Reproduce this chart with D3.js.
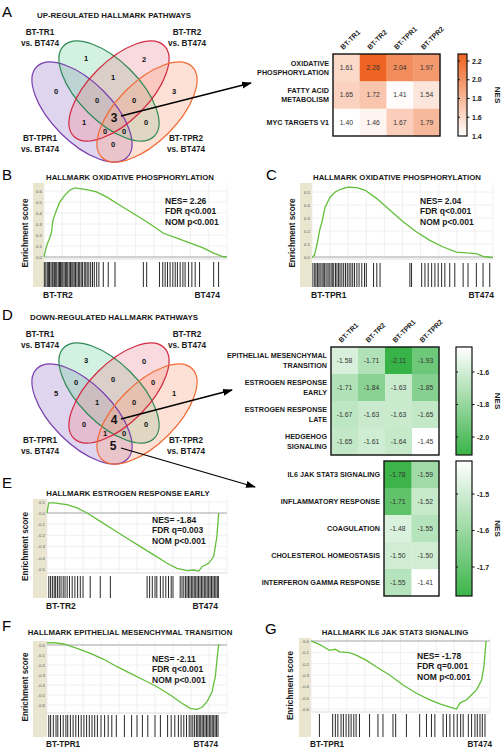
<!DOCTYPE html>
<html><head><meta charset="utf-8">
<script src="https://cdn.jsdelivr.net/npm/d3@7"></script>
<style>body{margin:0;background:#fff}svg{display:block;font-family:"Liberation Sans",Arial,sans-serif}</style>
</head><body><svg id="c" width="502" height="750"></svg>
<script>
// ---------------- DATA ----------------
const vennSetNames = ["BT-TR1", "BT-TR2", "BT-TPR1", "BT-TPR2"];
const vennVs = "vs. BT474";
// region order: TR1, TR2, TPR1, TPR2, TR1&TPR1, TR1&TR2, TR2&TPR2, TPR1&TR1&TR2, TR1&TR2&TPR2, ALL,
//               TPR1&TR2, TR1&TPR2, TPR1&TR2&TPR2, TPR1&TR1&TPR2, TPR1&TPR2
const vennUpCounts   = [1, 2, 0, 3, null, 1, null, 0, 0, 3, 1, 0, 0, 0, 0];
const vennDownCounts = [3, 0, 5, 1, 0, 0, 0, 1, 0, 4, 0, 0, 1, 0, 5];

const upSamples = ["BT-TR1", "BT-TR2", "BT-TPR1", "BT-TPR2"];
const upPathways = ["OXIDATIVE\nPHOSPHORYLATION", "FATTY ACID\nMETABOLISM", "MYC TARGETS V1"];
const upNES = [[1.61, 2.26, 2.04, 1.97], [1.65, 1.72, 1.41, 1.54], [1.40, 1.46, 1.67, 1.79]];
const upTicks = [1.4, 1.6, 1.8, 2.0, 2.2];

const downSamples = ["BT-TR1", "BT-TR2", "BT-TPR1", "BT-TPR2"];
const downPathways = ["EPITHELIAL MESENCHYMAL\nTRANSITION", "ESTROGEN RESPONSE\nEARLY", "ESTROGEN RESPONSE\nLATE", "HEDGEHOG\nSIGNALING"];
const downNES = [[-1.58, -1.71, -2.11, -1.93], [-1.71, -1.84, -1.63, -1.85], [-1.67, -1.63, -1.63, -1.65], [-1.65, -1.61, -1.64, -1.45]];
const downTicks = [-1.6, -1.8, -2.0];

const down2Samples = ["BT-TPR1", "BT-TPR2"];
const down2Pathways = ["IL6 JAK STAT3 SIGNALING", "INFLAMMATORY RESPONSE", "COAGULATION", "CHOLESTEROL HOMEOSTASIS", "INTERFERON GAMMA RESPONSE"];
const down2NES = [[-1.78, -1.59], [-1.71, -1.52], [-1.48, -1.55], [-1.50, -1.50], [-1.55, -1.41]];
const down2Ticks = [-1.5, -1.6, -1.7];

// running enrichment scores [rank fraction, ES]
const esB = [[0,0],[0.013,0.096],[0.027,0.156],[0.04,0.216],[0.049,0.336],[0.068,0.426],[0.086,0.50],[0.113,0.56],[0.14,0.607],[0.168,0.628],[0.196,0.622],[0.232,0.613],[0.287,0.592],[0.342,0.547],[0.415,0.471],[0.488,0.396],[0.561,0.321],[0.653,0.216],[0.726,0.171],[0.80,0.126],[0.872,0.081],[0.927,0.036],[0.973,0.006],[1.0,0]];
const hitsB = [0.002,0.01,0.018,0.024,0.03,0.038,0.045,0.05,0.058,0.064,0.07,0.078,0.085,0.09,0.097,0.103,0.11,0.118,0.124,0.13,0.138,0.145,0.152,0.158,0.165,0.172,0.18,0.188,0.195,0.203,0.21,0.22,0.228,0.236,0.245,0.255,0.265,0.275,0.288,0.3,0.324,0.351,0.388,0.543,0.561,0.631,0.649,0.662,0.675,0.689,0.704,0.717,0.729,0.744,0.759,0.771,0.79,0.808,0.826,0.85,0.927,0.954];

const esC = [[0,-0.005],[0.013,0.013],[0.028,0.10],[0.042,0.205],[0.055,0.27],[0.073,0.385],[0.10,0.46],[0.128,0.50],[0.165,0.525],[0.2,0.538],[0.248,0.533],[0.294,0.513],[0.358,0.449],[0.431,0.359],[0.505,0.269],[0.578,0.192],[0.651,0.128],[0.725,0.077],[0.798,0.038],[0.853,0.031],[0.908,0.026],[0.945,0.005],[0.972,0],[1,-0.005]];
const hitsC = [0.005,0.015,0.022,0.03,0.038,0.045,0.055,0.062,0.07,0.078,0.088,0.095,0.105,0.112,0.12,0.13,0.138,0.147,0.155,0.165,0.175,0.185,0.195,0.205,0.215,0.225,0.235,0.248,0.26,0.275,0.29,0.3,0.34,0.358,0.376,0.541,0.55,0.606,0.624,0.642,0.661,0.679,0.697,0.716,0.734,0.761,0.789,0.835,0.862,0.908,0.945,0.982];

const esE = [[0,0],[0.009,0.09],[0.037,0.09],[0.111,0.075],[0.167,0.045],[0.222,0.0],[0.296,-0.075],[0.37,-0.15],[0.444,-0.225],[0.519,-0.30],[0.593,-0.374],[0.667,-0.449],[0.722,-0.494],[0.778,-0.515],[0.815,-0.509],[0.843,-0.518],[0.861,-0.479],[0.898,-0.449],[0.926,-0.389],[0.944,-0.21],[0.954,0]];
const hitsE = [0.01,0.02,0.03,0.04,0.048,0.058,0.068,0.078,0.09,0.1,0.112,0.125,0.14,0.155,0.17,0.185,0.2,0.24,0.296,0.352,0.556,0.57,0.585,0.6,0.61,0.63,0.645,0.66,0.675,0.69,0.7,0.74,0.75,0.76,0.77,0.778,0.786,0.794,0.802,0.81,0.818,0.826,0.834,0.842,0.85,0.858,0.866,0.874,0.882,0.89,0.898,0.906,0.914,0.922,0.93,0.938,0.946,0.952];

const esF = [[0,0.02],[0.037,0.023],[0.093,0.01],[0.167,-0.033],[0.241,-0.083],[0.315,-0.143],[0.389,-0.217],[0.463,-0.283],[0.537,-0.35],[0.611,-0.417],[0.685,-0.5],[0.75,-0.583],[0.796,-0.633],[0.833,-0.643],[0.861,-0.623],[0.889,-0.567],[0.917,-0.467],[0.935,-0.317],[0.948,-0.083],[0.954,0.01]];
const hitsF = [0.01,0.02,0.035,0.05,0.06,0.075,0.09,0.105,0.115,0.13,0.145,0.16,0.175,0.19,0.205,0.22,0.235,0.25,0.265,0.28,0.3,0.32,0.34,0.36,0.385,0.43,0.47,0.5,0.53,0.56,0.6,0.63,0.67,0.69,0.71,0.73,0.745,0.76,0.775,0.79,0.8,0.81,0.82,0.83,0.838,0.846,0.854,0.862,0.87,0.878,0.886,0.894,0.902,0.91,0.918,0.926,0.934,0.942,0.95];

const esG = [[0,0],[0.028,-0.017],[0.056,-0.038],[0.103,-0.082],[0.136,-0.073],[0.159,-0.096],[0.215,-0.102],[0.252,-0.125],[0.308,-0.169],[0.364,-0.227],[0.439,-0.30],[0.514,-0.388],[0.589,-0.461],[0.664,-0.519],[0.72,-0.554],[0.776,-0.583],[0.813,-0.60],[0.832,-0.548],[0.869,-0.519],[0.897,-0.475],[0.925,-0.431],[0.953,-0.344],[0.966,-0.227],[0.978,0]];
const hitsG = [0.047,0.121,0.136,0.15,0.168,0.181,0.196,0.211,0.224,0.239,0.252,0.271,0.327,0.374,0.402,0.458,0.473,0.533,0.607,0.645,0.673,0.692,0.738,0.757,0.776,0.798,0.817,0.836,0.85,0.879,0.897,0.916,0.929,0.944,0.957,0.972];

// ---------------- DRAWING ----------------
const svg = d3.select("#c");
function txt(g, x, y, s, o = {}) {
  const t = g.append("text").attr("x", x).attr("y", y).text(s)
    .attr("font-size", o.size || 8).attr("font-weight", o.normal ? "normal" : "bold")
    .attr("text-anchor", o.anchor || "start").attr("fill", o.fill || "#1a1a1a");
  if (o.rotate != null) t.attr("transform", `rotate(${o.rotate},${x},${y})`);
  return t;
}
svg.append("defs").append("marker").attr("id", "arr").attr("markerUnits", "userSpaceOnUse")
  .attr("markerWidth", 10).attr("markerHeight", 8).attr("refX", 9).attr("refY", 4).attr("orient", "auto")
  .append("path").attr("d", "M0,0.5 L10,4 L0,7.5 Z").attr("fill", "#000");

// Venn
const ellipses = [
  {cx: 82, cy: 112, rot: 45, fill: "#a07ccc", stroke: "#7a3fae"},
  {cx: 109, cy: 91, rot: 45, fill: "#74d39e", stroke: "#2f8a55"},
  {cx: 119, cy: 91, rot: -45, fill: "#ec8c98", stroke: "#d22a40"},
  {cx: 147, cy: 112, rot: -45, fill: "#fba27e", stroke: "#f26a35"}
];
const regionPos = [[86,58],[144,59],[56,91],[174,91],[76,80],[113,77],[153,80],[97,100],[134,100],[114,118],[84,122],[146,122],[105,131],[124,131],[113,144]];
function venn(oy, title, counts) {
  const g = svg.append("g").attr("transform", `translate(0,${oy})`);
  txt(g, 114, 18, title, {size: 7.9, anchor: "middle"});
  ellipses.forEach(e => g.append("ellipse").attr("rx", 64).attr("ry", 30)
    .attr("transform", `translate(${e.cx},${e.cy}) rotate(${e.rot})`)
    .attr("fill", e.fill).attr("fill-opacity", 0.32));
  ellipses.forEach(e => g.append("ellipse").attr("rx", 64).attr("ry", 30)
    .attr("transform", `translate(${e.cx},${e.cy}) rotate(${e.rot})`)
    .attr("fill", "none").attr("stroke", e.stroke).attr("stroke-width", 1.2));
  counts.forEach((c, i) => {
    if (c == null) return;
    const big = i === 9 || (i === 14 && c >= 3);
    txt(g, regionPos[i][0], regionPos[i][1], String(c), {size: big ? 12 : 7.5, anchor: "middle", fill: "#111"})
      .attr("dominant-baseline", "central");
  });
  const lab = [[40, 35], [187, 35], [40, 141], [186, 141]];
  vennSetNames.forEach((n, i) => {
    txt(g, lab[i][0], lab[i][1], n, {size: 8.2, anchor: "middle"});
    txt(g, lab[i][0], lab[i][1] + 11, vennVs, {size: 8.2, anchor: "middle"});
  });
  return g;
}
venn(0, "UP-REGULATED HALLMARK PATHWAYS", vennUpCounts);
venn(302, "DOWN-REGULATED HALLMARK PATHWAYS", vennDownCounts);

// arrows
function arrow(x1, y1, x2, y2) {
  svg.append("line").attr("x1", x1).attr("y1", y1).attr("x2", x2).attr("y2", y2)
    .attr("stroke", "#000").attr("stroke-width", 1.3).attr("marker-end", "url(#arr)");
}
arrow(121, 116, 251, 83);
arrow(121, 419, 232, 390);
arrow(121, 448, 255, 487);

// Heatmaps
function heatmap(o) {
  const g = svg.append("g");
  const x = d3.scaleBand().domain(o.cols).range([o.x0, o.x1]);
  const y = d3.scaleBand().domain(o.rows).range([o.y0, o.y1]);
  o.rows.forEach((r, i) => o.cols.forEach((c, j) => {
    const v = o.values[i][j];
    g.append("rect").attr("x", x(c)).attr("y", y(r)).attr("width", x.bandwidth() + 0.3)
      .attr("height", y.bandwidth() + 0.3).attr("fill", o.color(v));
    txt(g, x(c) + x.bandwidth() / 2, y(r) + y.bandwidth() / 2 + 2.4, v.toFixed(2),
      {size: 6.8, normal: true, anchor: "middle", fill: "#333"});
  }));
  g.append("rect").attr("x", o.x0).attr("y", o.y0).attr("width", o.x1 - o.x0).attr("height", o.y1 - o.y0)
    .attr("fill", "none").attr("stroke", "#111").attr("stroke-width", 1.4);
  o.rows.forEach(r => {
    const lines = r.split("\n");
    const cy = y(r) + y.bandwidth() / 2;
    lines.forEach((l, k) => txt(g, o.x0 - 4, cy + 2.6 + (k - (lines.length - 1) / 2) * 9.5, l,
      {size: 7.2, anchor: "end"}));
  });
  if (o.showCols) o.cols.forEach(c => {
    const cx = x(c) + x.bandwidth() / 2 - 3;
    txt(g, cx, o.y0 - 4, c, {size: 7, rotate: -45});
  });
  // colour bar
  const cb = o.cb;
  const ys = d3.scaleLinear().domain(cb.refV).range(cb.refY);
  const gid = "g" + Math.round(o.y0);
  const lg = svg.select("defs").append("linearGradient").attr("id", gid)
    .attr("x1", 0).attr("y1", 0).attr("x2", 0).attr("y2", 1);
  d3.range(11).forEach(k => {
    const v = ys.invert(cb.y0 + (cb.y1 - cb.y0) * k / 10);
    lg.append("stop").attr("offset", k / 10).attr("stop-color", o.color(v));
  });
  g.append("rect").attr("x", cb.x0).attr("y", cb.y0).attr("width", cb.x1 - cb.x0).attr("height", cb.y1 - cb.y0)
    .attr("fill", `url(#${gid})`).attr("stroke", "#111").attr("stroke-width", 1.2);
  cb.ticks.forEach(t => {
    const ty = ys(t);
    if (!(ty < cb.y0 + 3 || ty > cb.y1 - 3)) {
      g.append("line").attr("x1", cb.x0).attr("x2", cb.x0 + 2).attr("y1", ty).attr("y2", ty).attr("stroke", "#111");
      g.append("line").attr("x1", cb.x1).attr("x2", cb.x1 + 2.5).attr("y1", ty).attr("y2", ty).attr("stroke", "#111");
    }
    txt(g, cb.x1 + 5, ty + 2.5, t.toFixed(1), {size: 7});
  });
  txt(g, 495, (cb.y0 + cb.y1) / 2, "NES", {size: 8, anchor: "middle", rotate: 90});
}
const orange = d3.scaleLinear().domain([1.40, 2.26]).range(["#ffffff", "#ee6422"]).clamp(true);
heatmap({cols: upSamples, rows: upPathways, values: upNES, x0: 333, x1: 440, y0: 54, y1: 136,
  color: orange, showCols: true,
  cb: {x0: 458, x1: 467, y0: 54, y1: 136, refV: [1.4, 2.2], refY: [136, 61], ticks: upTicks}});
const green1 = d3.scaleLinear().domain([-1.45, -2.11]).range(["#ffffff", "#38b347"]).clamp(true);
heatmap({cols: downSamples, rows: downPathways, values: downNES, x0: 331, x1: 439, y0: 347, y1: 455,
  color: green1, showCols: true,
  cb: {x0: 456, x1: 472, y0: 347, y1: 455, refV: [-1.6, -2.0], refY: [372, 437], ticks: downTicks}});
const green2 = d3.scaleLinear().domain([-1.41, -1.78]).range(["#ffffff", "#3cb44a"]).clamp(true);
heatmap({cols: down2Samples, rows: down2Pathways, values: down2NES, x0: 384, x1: 439, y0: 461, y1: 596,
  color: green2, showCols: false,
  cb: {x0: 456, x1: 472, y0: 461, y1: 596, refV: [-1.5, -1.7], refY: [494, 567], ticks: down2Ticks}});

// GSEA plots
function gsea(o) {
  const g = svg.append("g");
  txt(g, o.letter[1], o.letter[2], o.letter[0], {size: 15, normal: true, fill: "#000"});
  txt(g, o.titleX, o.titleY, o.title, {size: 7.8, anchor: "middle"});
  const x = d3.scaleLinear().domain([0, 1]).range([o.x0, o.x1]);
  const y = d3.scaleLinear().domain(o.refV).range(o.refY);
  g.append("rect").attr("x", o.strip).attr("y", o.top).attr("width", o.x0 - o.strip)
    .attr("height", o.hitBottom - o.top).attr("fill", "#e9e5cf");
  g.append("rect").attr("x", o.x0).attr("y", o.top).attr("width", o.x1 - o.x0)
    .attr("height", o.bottom - o.top).attr("fill", "#fff");
  x.ticks(12).forEach(t => g.append("line").attr("x1", x(t)).attr("x2", x(t)).attr("y1", o.top).attr("y2", o.bottom)
    .attr("stroke", "#ececec").attr("stroke-width", 0.8));
  o.ticks.forEach(t => g.append("line").attr("x1", o.x0).attr("x2", o.x1).attr("y1", y(t)).attr("y2", y(t))
    .attr("stroke", "#ececec").attr("stroke-width", 0.8));
  g.append("line").attr("x1", o.x0).attr("x2", o.x1).attr("y1", y(0)).attr("y2", y(0))
    .attr("stroke", "#aaa").attr("stroke-width", 1);
  g.append("line").attr("x1", o.x0).attr("x2", o.x1).attr("y1", o.bottom).attr("y2", o.bottom)
    .attr("stroke", "#ddd").attr("stroke-width", 1);
  const ax = g.append("g").attr("transform", `translate(${o.x0 - 1},0)`)
    .call(d3.axisLeft(y).tickValues(o.ticks).tickSize(0).tickPadding(1).tickFormat(d => d.toFixed(1)));
  ax.select(".domain").remove();
  ax.selectAll("text").attr("font-size", 4.3).attr("fill", "#555").attr("font-family", "Liberation Sans, Arial, sans-serif");
  g.append("path").datum(o.es).attr("fill", "none").attr("stroke", "#62bf3a").attr("stroke-width", 1.3)
    .attr("d", d3.line().x(d => x(d[0])).y(d => y(d[1])));
  o.hits.forEach(h => g.append("line").attr("x1", x(h)).attr("x2", x(h)).attr("y1", o.hitTop).attr("y2", o.hitBottom)
    .attr("stroke", "#111").attr("stroke-width", 0.9));
  txt(g, o.x0 - 1, o.labY, o.left, {size: o.labSize || 8.5});
  txt(g, o.rightX, o.labY, o.right, {size: o.labSize || 8.5, anchor: "end"});
  o.ann.forEach((a, i) => txt(g, o.annX, o.annY + i * 10.3, a, {size: 8.5}));
  txt(g, o.yTitleX, (o.top + o.hitBottom) / 2 - 2, "Enrichment score", {size: 8.2, anchor: "middle", rotate: -90});
}
const tB = [0, 0.1, 0.2, 0.3, 0.4, 0.5, 0.6];
gsea({letter: ["B", 2, 180], title: "HALLMARK OXIDATIVE PHOSPHORYLATION", titleX: 130, titleY: 180,
  strip: 33, x0: 44, x1: 227, top: 183, bottom: 259, hitTop: 262, hitBottom: 287,
  refV: [0, 0.6], refY: [257, 191], ticks: tB, es: esB, hits: hitsB,
  left: "BT-TR2", right: "BT474", rightX: 220, labY: 298,
  ann: ["NES= 2.26", "FDR q<0.001", "NOM p<0.001"], annX: 165, annY: 204, yTitleX: 28});
gsea({letter: ["C", 266, 180], title: "HALLMARK OXIDATIVE PHOSPHORYLATION", titleX: 397, titleY: 180,
  strip: 300, x0: 312, x1: 493, top: 183, bottom: 259, hitTop: 263, hitBottom: 287,
  refV: [0, 0.5], refY: [257, 192], ticks: [0, 0.1, 0.2, 0.3, 0.4, 0.5], es: esC, hits: hitsC,
  left: "BT-TPR1", right: "BT474", rightX: 494, labY: 298,
  ann: ["NES= 2.04", "FDR q<0.001", "NOM p<0.001"], annX: 420, annY: 204, yTitleX: 295});
gsea({letter: ["E", 2, 488], title: "HALLMARK ESTROGEN RESPONSE EARLY", titleX: 128, titleY: 496,
  strip: 33, x0: 47, x1: 227, top: 499, bottom: 573, hitTop: 576, hitBottom: 598,
  refV: [0, -0.5], refY: [513, 569], ticks: [0.1, 0, -0.1, -0.2, -0.3, -0.4, -0.5], es: esE, hits: hitsE,
  left: "BT-TR2", right: "BT474", rightX: 218, labY: 609,
  ann: ["NES= -1.84", "FDR q=0.003", "NOM p<0.001"], annX: 152, annY: 523, yTitleX: 28});
gsea({letter: ["F", 2, 631], title: "HALLMARK EPITHELIAL MESENCHYMAL TRANSITION", titleX: 130, titleY: 635,
  strip: 33, x0: 47, x1: 227, top: 641, bottom: 713, hitTop: 715, hitBottom: 737,
  refV: [0, -0.6], refY: [645, 705], ticks: [0, -0.1, -0.2, -0.3, -0.4, -0.5, -0.6], es: esF, hits: hitsF,
  left: "BT-TPR1", right: "BT474", rightX: 218, labY: 747, labSize: 8.2,
  ann: ["NES= -2.11", "FDR q<0.001", "NOM p<0.001"], annX: 152, annY: 662, yTitleX: 28});
gsea({letter: ["G", 265, 634], title: "HALLMARK IL6 JAK STAT3 SIGNALING", titleX: 395, titleY: 635,
  strip: 299, x0: 311, x1: 490, top: 638, bottom: 712, hitTop: 714, hitBottom: 737,
  refV: [0, -0.6], refY: [641, 709], ticks: [0, -0.1, -0.2, -0.3, -0.4, -0.5, -0.6], es: esG, hits: hitsG,
  left: "BT-TPR1", right: "BT474", rightX: 492, labY: 747, labSize: 8.2,
  ann: ["NES= -1.78", "FDR q=0.001", "NOM p<0.001"], annX: 417, annY: 659, yTitleX: 293});
txt(svg, 2, 17, "A", {size: 15, normal: true, fill: "#000"});
txt(svg, 2, 320, "D", {size: 15, normal: true, fill: "#000"});
</script></body></html>
